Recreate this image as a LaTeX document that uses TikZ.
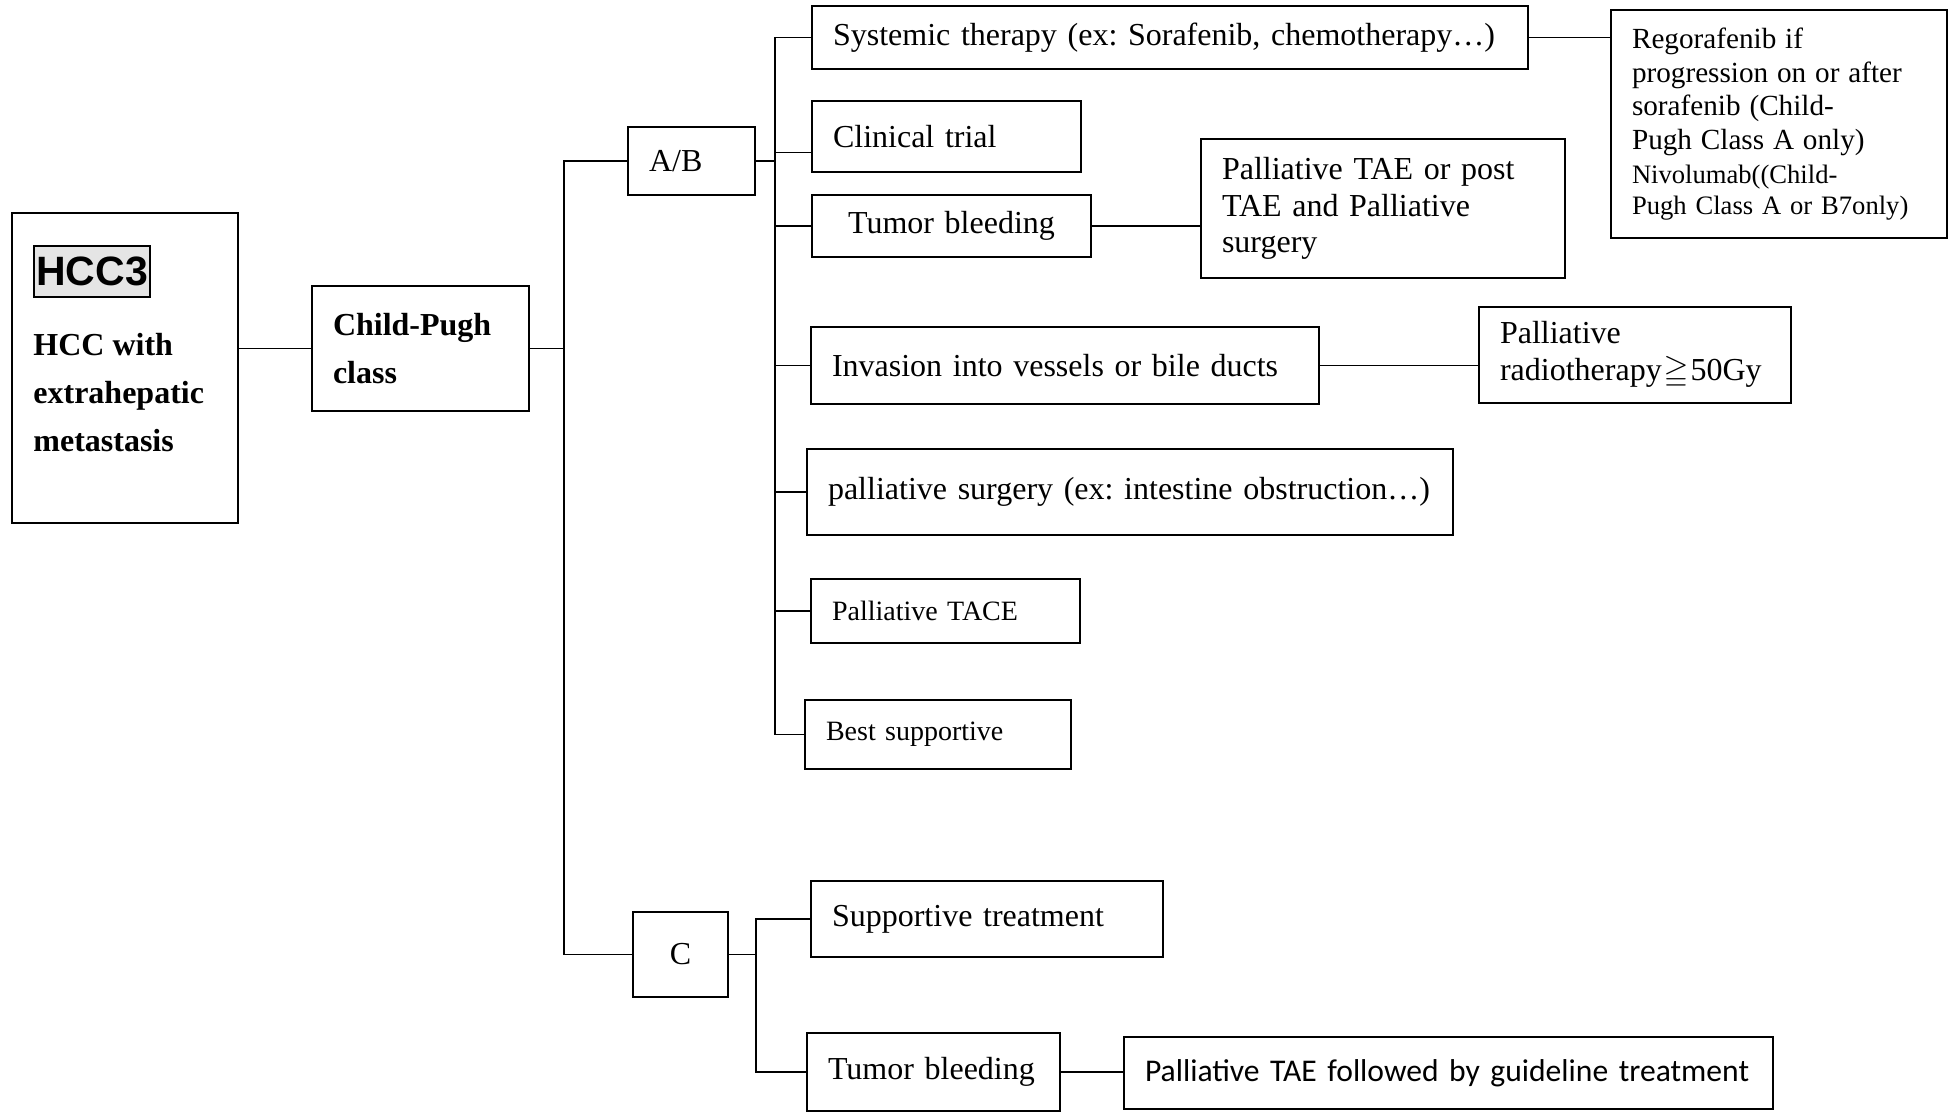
\documentclass[tikz,border=0pt]{standalone}
\usepackage{fontspec}
\usepackage{amssymb}
\setmainfont{Liberation Serif}
\setsansfont{Liberation Sans}
\newfontfamily\calibrifont{Carlito}
\frenchspacing
\usetikzlibrary{positioning}
\tikzstyle{link} = [line width=0.9pt]
\tikzstyle{tag} = [rectangle, draw=black, line width=0.8pt, fill=gray!20, inner xsep=1.2pt, inner ysep=0pt, minimum height=25.5pt, font=\sffamily\bfseries\fontsize{20.5}{24}\selectfont]
\tikzstyle{headtext} = [align=left, inner sep=0pt, font=\bfseries\fontsize{16}{24}\selectfont]
\tikzset{
	treatment/.style = {rectangle, draw=black, line width=1pt,
		inner xsep=10.5pt, inner ysep=0pt,
		text width=\pgfkeysvalueof{/pgf/minimum width}-2*\pgfkeysvalueof{/pgf/inner xsep},
		align=left, font=\fontsize{16}{18.4}\selectfont
	},
	classbox/.style = {treatment, font=\bfseries\fontsize{16}{23.7}\selectfont},
	smalltext/.style = {font=\fontsize{14}{16}\selectfont}
}

\begin{document}
\begin{tikzpicture}[x=0.5pt, y=-0.5pt]
\useasboundingbox (0,0) rectangle (1957,1112);
% Placement of nodes
\node (hcc) [treatment, minimum width=113pt, minimum height=155pt] at (125,368) {};
\node (hcclabel) [tag, below right=16.5pt and 11pt of hcc.north west] {HCC3};
\node (hcctext) [headtext, below right=17.5pt and 0pt of hcclabel.south west] {HCC with\\extrahepatic\\metastasis};
\node (childpugh) [classbox, minimum width=108.5pt, minimum height=62.5pt] at (420.5,348.5) {Child-Pugh\\class};

\node (ab) [treatment, minimum width=63.5pt, minimum height=34pt] at (691.5,161) {A/B};
\node (cbox) [treatment, minimum width=47.5pt, minimum height=42.5pt, align=center] at (680.5,954.5) {C};

% A/B branch
\node (systemic) [treatment, minimum width=358pt, minimum height=31.5pt] at (1170,37.5) {Systemic therapy (ex: Sorafenib, chemotherapy…)};
\node (clinical) [treatment, minimum width=134.5pt, minimum height=35.5pt] at (946.5,136.5) {Clinical trial};
\node (bleedab) [treatment, minimum width=139.5pt, minimum height=31pt, align=center] at (951.5,226) {Tumor bleeding};
\node (invasion) [treatment, minimum width=254pt, minimum height=38.5pt] at (1065,365.5) {Invasion into vessels or bile ducts};
\node (palsurg) [treatment, minimum width=323pt, minimum height=43pt] at (1130,492) {palliative surgery (ex: intestine obstruction…)};
\node (tace) [treatment, smalltext, minimum width=134.5pt, minimum height=32pt] at (945.5,611) {Palliative TACE};
\node (bestsup) [treatment, smalltext, minimum width=133pt, minimum height=34.5pt] at (938,734.5) {Best supportive};

\node (rego) [treatment, minimum width=168pt, minimum height=114pt, font=\fontsize{13.3}{15.6}\selectfont] at (1779,124) {{\fontsize{14.6}{15.6}\selectfont Regorafenib if\\[1.2pt] progression on or after\\[1.2pt] sorafenib (Child-\\[1.2pt] Pugh Class A only)}\\[1.2pt] Nivolumab((Child-\\ Pugh Class A or B7only)};
\node (taepost) [treatment, minimum width=182pt, minimum height=69.5pt] at (1383,208.5) {Palliative TAE or post\\ TAE and Palliative\\ surgery};
\node (radio) [treatment, minimum width=156pt, minimum height=48pt] at (1635,355) {Palliative\\ radiotherapy\kern1pt$\geqq$\kern1pt 50Gy};

% C branch
\node (suptreat) [treatment, minimum width=176pt, minimum height=38pt] at (987,919) {Supportive treatment};
\node (bleedc) [treatment, minimum width=126.5pt, minimum height=39pt] at (933.5,1072) {Tumor bleeding};
\node (taefollow) [treatment, minimum width=324.5pt, minimum height=36pt, font=\calibrifont\fontsize{15.8}{18}\selectfont] at (1448.5,1073) {Palliative TAE followed by guideline treatment};

% junction lines
\coordinate (trunk) at (564,0);
\coordinate (spine) at (775,0);
\coordinate (spinec) at (756,0);
\coordinate (clinicalin) at ([yshift=-8pt]clinical.west);

% Placement of edges
\draw [link] (hcc.east |- childpugh.west) -- (childpugh.west);
\draw [link] (childpugh.east) -- (childpugh.east -| trunk);
\draw [link] (ab.west) -- (ab.west -| trunk) -- (cbox.west -| trunk) -- (cbox.west);

% A/B treatments
\draw [link] (ab.east) -- (ab.east -| spine);
\draw [link] (systemic.west) -- (systemic.west -| spine) -- (bestsup.west -| spine) -- (bestsup.west);
\draw [link] (clinicalin) -- (clinicalin -| spine);
\draw [link] (bleedab.west) -- (bleedab.west -| spine);
\draw [link] (invasion.west) -- (invasion.west -| spine);
\draw [link] (palsurg.west) -- (palsurg.west -| spine);
\draw [link] (tace.west) -- (tace.west -| spine);
\draw [link] (systemic.east) -- (systemic.east -| rego.west);
\draw [link] (bleedab.east) -- (bleedab.east -| taepost.west);
\draw [link] (invasion.east) -- (invasion.east -| radio.west);

% C treatments
\draw [link] (cbox.east) -- (cbox.east -| spinec);
\draw [link] (suptreat.west) -- (suptreat.west -| spinec) -- (bleedc.west -| spinec) -- (bleedc.west);
\draw [link] (bleedc.east) -- (bleedc.east -| taefollow.west);

\end{tikzpicture}
\end{document}
